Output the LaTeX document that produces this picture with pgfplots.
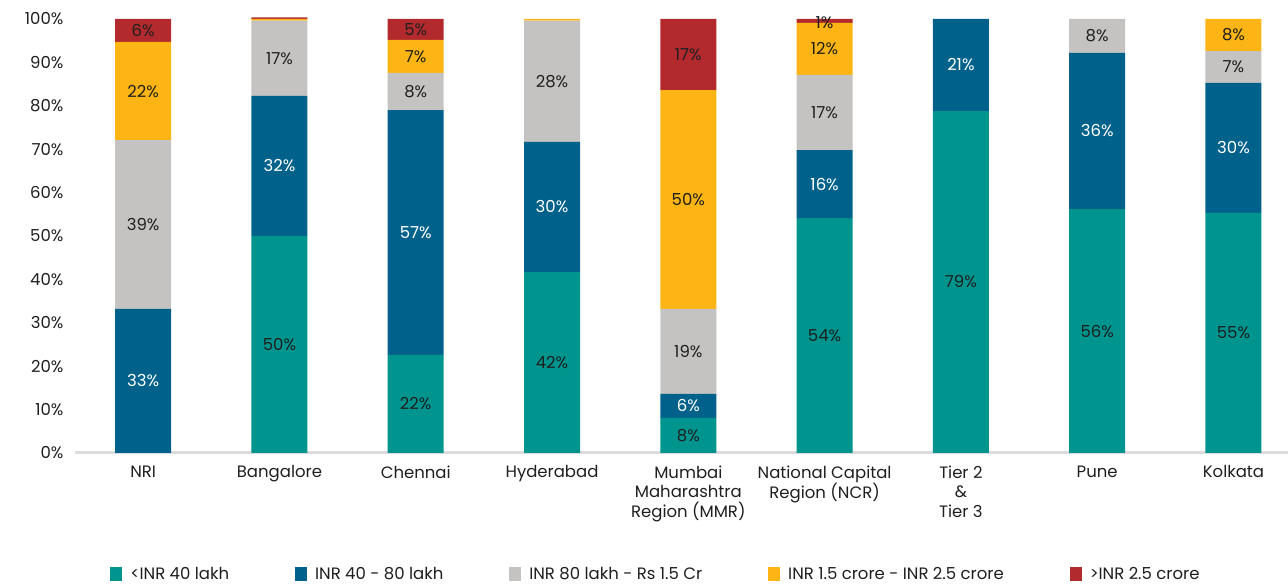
\documentclass[border=0pt]{standalone}
\usepackage{pgfplots}
\pgfplotsset{compat=1.18}
\usepackage{fontspec}
\setmainfont{Poppins}
\definecolor{cteal}{HTML}{00948F}
\definecolor{cblue}{HTML}{00628B}
\definecolor{cgrey}{HTML}{C4C3C2}
\definecolor{cyellow}{HTML}{FDB515}
\definecolor{cred}{HTML}{B22A2E}
\definecolor{ctext}{HTML}{1F1F1F}
\definecolor{caxis}{HTML}{DCDCDC}
\begin{document}
\begin{tikzpicture}
\pgfplotsset{
  base/.style={
    scale only axis, width=1213pt, height=434pt,
    xmin=-0.5, xmax=8.4, ymin=0, ymax=100,
    clip=false,
  }
}
\begin{axis}[base, name=ax,
  ybar stacked, bar width=56pt,
  axis x line*=bottom, axis y line*=left,
  x axis line style={draw=caxis, line width=3pt},
  y axis line style={draw=none},
  major tick length=0pt,
  xtick={0,1,2,3,4,5,6,7,8},
  xticklabels={NRI, Bangalore, Chennai, Hyderabad, Mumbai\\Maharashtra\\Region (MMR), National Capital\\Region (NCR), Tier 2\\\&\\Tier 3, Pune, Kolkata},
  xticklabel style={align=center, font=\fontsize{16.5}{19.5}\selectfont, text=ctext, yshift=-9pt},
  ytick={0,10,...,100},
  yticklabels={0\%,10\%,20\%,30\%,40\%,50\%,60\%,70\%,80\%,90\%,100\%},
  yticklabel style={font=\fontsize{16.5}{18}\selectfont, text=ctext, xshift=-8pt},
  legend columns=5,
  legend style={draw=none, at={(0.479,-0.279)}, anchor=center,
    font=\fontsize{16.5}{18}\selectfont, text=ctext,
    /tikz/every odd column/.append style={column sep=6pt},
    /tikz/every even column/.append style={column sep=64pt}},
  legend image code/.code={\fill[#1] (0pt,-7pt) rectangle (12pt,7pt);},
]
\addplot[fill=cteal, draw=none] coordinates {(0,0) (1,50.0) (2,22.6) (3,41.7) (4,8.1) (5,54.1) (6,78.8) (7,56.2) (8,55.3)};
\addlegendentry{<INR 40 lakh}
\addplot[fill=cblue, draw=none] coordinates {(0,33.2) (1,32.3) (2,56.4) (3,30.0) (4,5.5) (5,15.7) (6,21.2) (7,36.0) (8,30.0)};
\addlegendentry{INR 40 - 80 lakh}
\addplot[fill=cgrey, draw=none] coordinates {(0,38.9) (1,17.3) (2,8.6) (3,27.9) (4,19.6) (5,17.3) (6,0) (7,7.8) (8,7.3)};
\addlegendentry{INR 80 lakh - Rs 1.5 Cr}
\addplot[fill=cyellow, draw=none] coordinates {(0,22.6) (1,0.4) (2,7.6) (3,0.4) (4,50.4) (5,12.0) (6,0) (7,0) (8,7.4)};
\addlegendentry{INR 1.5 crore - INR 2.5 crore}
\addplot[fill=cred, draw=none] coordinates {(0,5.3) (1,0.4) (2,4.8) (3,0) (4,16.4) (5,0.9) (6,0) (7,0) (8,0)};
\addlegendentry{>INR 2.5 crore}
\end{axis}
\begin{axis}[base, hide axis, at={(ax.south west)}, anchor=south west]
\addplot[draw=none, mark=none, nodes near coords, point meta=explicit symbolic,
  every node near coord/.append style={anchor=center, text=ctext, font=\fontsize{16.5}{18}\selectfont}]
  coordinates {
  (0,52.65) [39\%] (0,83.4) [22\%] (0,97.35) [6\%]
  (1,25.0) [50\%] (1,90.95) [17\%]
  (2,11.3) [22\%] (2,83.3) [8\%] (2,91.4) [7\%] (2,97.6) [5\%]
  (3,20.85) [42\%] (3,85.65) [28\%]
  (4,4.05) [8\%] (4,23.4) [19\%] (4,58.4) [50\%] (4,91.8) [17\%]
  (5,27.05) [54\%] (5,78.45) [17\%] (5,93.1) [12\%] (5,99.2) [1\%]
  (6,39.4) [79\%]
  (7,28.1) [56\%] (7,96.1) [8\%]
  (8,27.65) [55\%] (8,88.95) [7\%] (8,96.3) [8\%]
  };
\addplot[draw=none, mark=none, nodes near coords, point meta=explicit symbolic,
  every node near coord/.append style={anchor=center, text=white, font=\fontsize{16.5}{18}\selectfont}]
  coordinates {
  (0,16.6) [33\%] (1,66.15) [32\%] (2,50.8) [57\%] (3,56.7) [30\%]
  (4,10.85) [6\%] (5,61.95) [16\%] (6,89.4) [21\%] (7,74.2) [36\%] (8,70.3) [30\%]
  };
\end{axis}
\pgfresetboundingbox
\path[use as bounding box] ([xshift=-75pt,yshift=-132pt]ax.south west) rectangle ([xshift=1213pt,yshift=453pt]ax.south west);
\end{tikzpicture}
\end{document}
